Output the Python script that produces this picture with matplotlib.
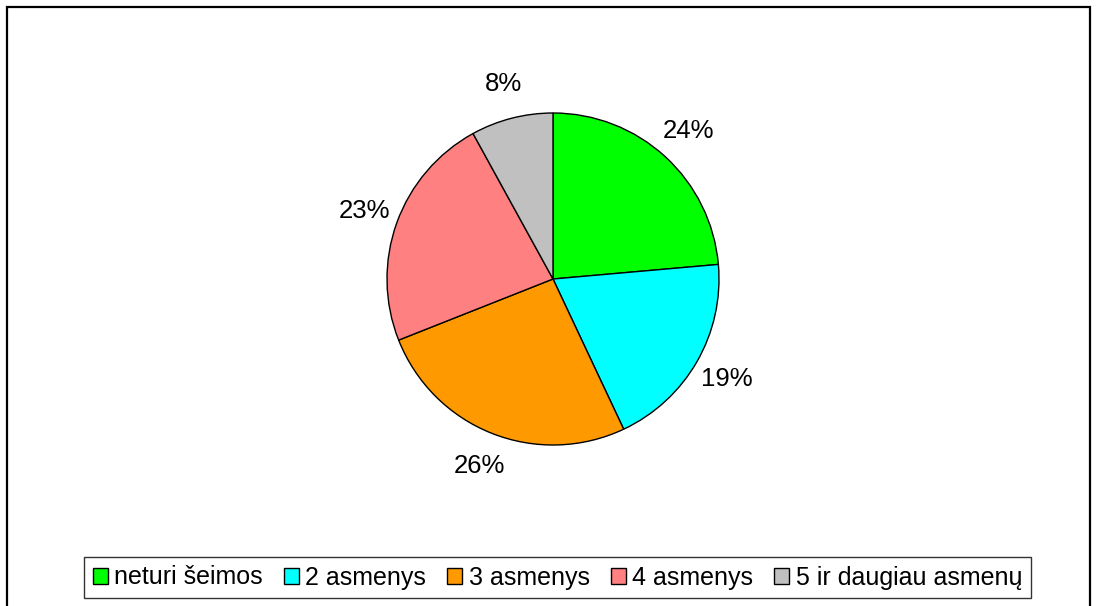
import matplotlib
matplotlib.use('Agg')
import matplotlib.pyplot as plt
from matplotlib.patches import Rectangle

labels = ['neturi šeimos', '2 asmenys', '3 asmenys', '4 asmenys', '5 ir daugiau asmenų']
values = [23.6, 19.4, 26, 23, 8]
colors = ['#00ff00', '#00ffff', '#ff9900', '#ff8080', '#c0c0c0']

plt.rcParams['font.family'] = ['Liberation Sans', 'DejaVu Sans']

W, H = 1097, 606
fig = plt.figure(figsize=(W / 100, H / 100), dpi=100)

# outer frame (bottom edge runs off the image)
fig.patches.append(Rectangle((7 / W, -0.05), (1090 - 7) / W, 1.05 - 7 / H,
                             transform=fig.transFigure, fill=False,
                             edgecolor='black', linewidth=1.6))

cx, cy, r = 553, 279, 166
ax = fig.add_axes([(cx - r) / W, (H - cy - r) / H, 2 * r / W, 2 * r / H])
wedges, texts, autotexts = ax.pie(values, colors=colors, startangle=90, counterclock=False,
                                  autopct='%1.0f%%', pctdistance=1.21,
                                  wedgeprops=dict(edgecolor='black', linewidth=1.0),
                                  textprops=dict(fontsize=18.5, color='black'))
ax.set_xlim(-1, 1)
ax.set_ylim(-1, 1)

leg = fig.legend(wedges, labels, loc='center', ncol=5,
                 bbox_to_anchor=(557.5 / W, 1 - 577.5 / H),
                 fontsize=18, frameon=True, fancybox=False,
                 handlelength=0.6, handleheight=0.6, handletextpad=0.25,
                 columnspacing=0.85, borderpad=0.35, borderaxespad=0)
leg.get_frame().set_edgecolor('black')
leg.get_frame().set_linewidth(1.0)

fig.savefig('out.png', dpi=100)
